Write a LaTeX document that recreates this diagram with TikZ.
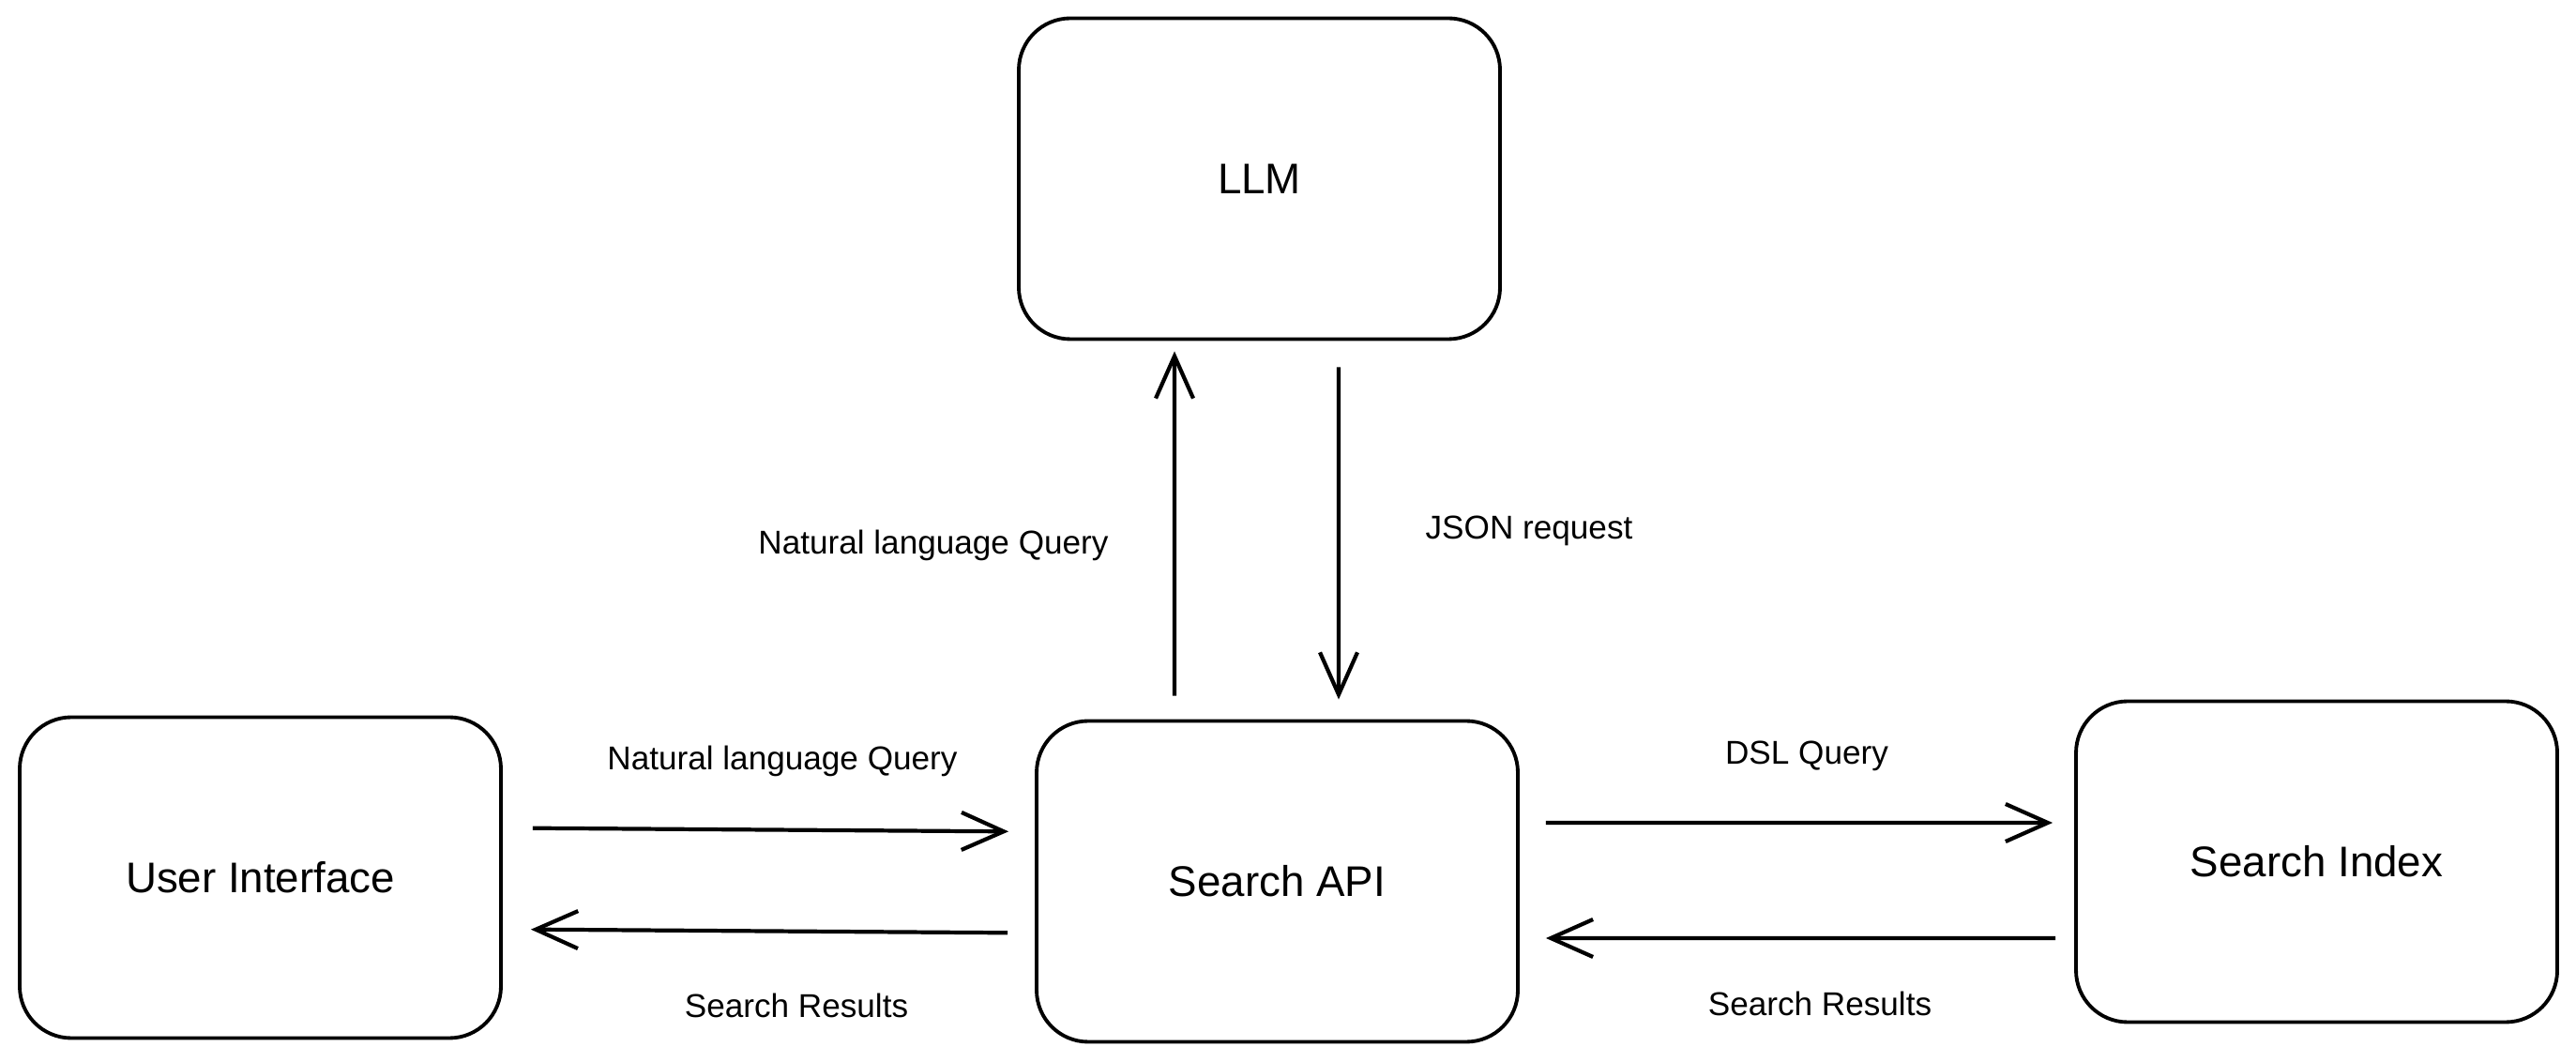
\documentclass[tikz,border=0pt]{standalone}
\usepackage{fontspec}
\setmainfont{Liberation Sans}
\usetikzlibrary{arrows.meta}

\begin{document}
\begin{tikzpicture}[box/.style={rectangle,draw,line width=1.1pt,rounded corners=5.5mm,minimum width=5.13cm,minimum height=3.42cm,inner sep=0pt,font=\fontsize{13}{15}\selectfont},
  flow/.style={line width=1.2pt,-{Straight Barb[length=4.5mm,width=4mm]}},
  lbl/.style={font=\fontsize{10}{12}\selectfont}]
  \useasboundingbox (0,0) rectangle (27.46,11.32);

  \node[box] (ui) at (2.775,1.965) {User Interface};
  \node[box] (api) at (13.615,1.925) {Search API};
  \node[box] (idx) at (24.695,2.135) {Search Index};
  \node[box] (llm) at (13.425,9.415) {LLM};

  \draw[flow,shorten <=3.2mm,shorten >=2.8mm] ([yshift=5.3mm]ui.east) -- ([yshift=5.3mm]api.west);
  \draw[flow,shorten <=2.9mm,shorten >=3mm] ([yshift=-5.5mm]api.west) -- ([yshift=-5.5mm]ui.east);
  \draw[flow,shorten <=2.8mm,shorten >=2.3mm] ([yshift=6.25mm]api.east) -- ([yshift=4.15mm]idx.west);
  \draw[flow,shorten <=2mm,shorten >=2.8mm] ([yshift=-8.15mm]idx.west) -- ([yshift=-6.05mm]api.east);
  \draw[flow,shorten <=2.5mm,shorten >=1.1mm] ([xshift=-10.95mm]api.north) -- ([xshift=-9.05mm]llm.south);
  \draw[flow,shorten <=2.8mm,shorten >=2.1mm] ([xshift=8.45mm]llm.south) -- ([xshift=6.55mm]api.north);

  \node[lbl] (nlqa) at (8.34,3.21) {Natural language Query};
  \node[lbl] (resa) at (8.49,0.60) {Search Results};
  \node[lbl] (nlqb) at (9.95,5.51) {Natural language Query};
  \node[lbl] (json) at (16.30,5.66) {JSON request};
  \node[lbl] (dsl) at (19.26,3.26) {DSL Query};
  \node[lbl] (resb) at (19.40,0.62) {Search Results};
\end{tikzpicture}
\end{document}
